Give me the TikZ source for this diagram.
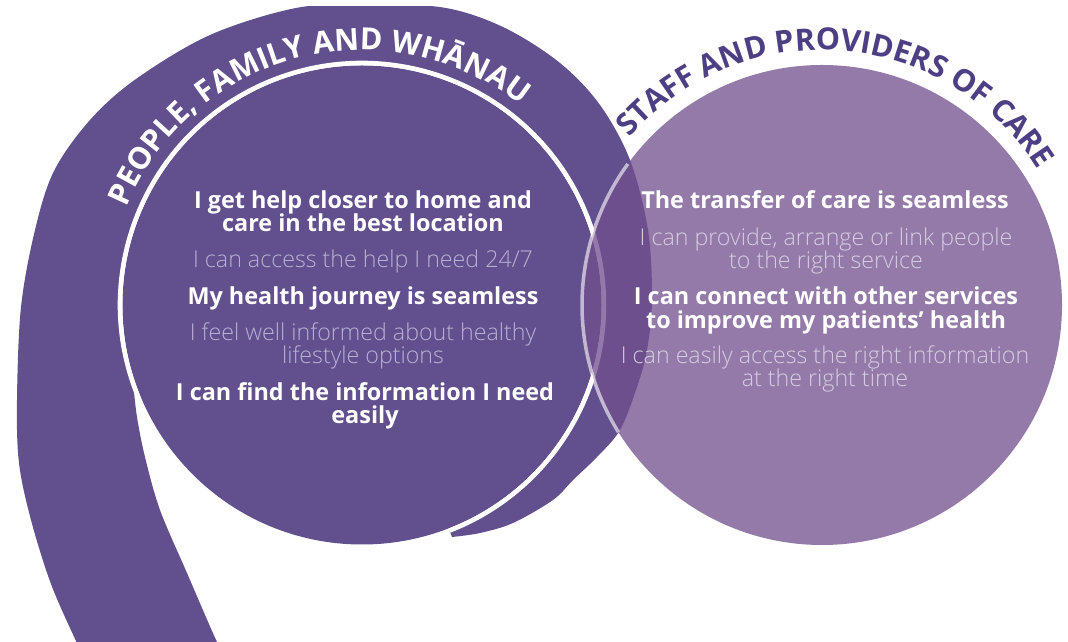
\documentclass[tikz,border=0pt]{standalone}
\usepackage{fontspec}
\setmainfont{Open Sans}
\IfFontExistsTF{Open Sans Light}{\newfontfamily\lightfont{Open Sans Light}}{\newfontfamily\lightfont{Open Sans}}
\usetikzlibrary{decorations.text,calc}
\definecolor{bandpurple}{RGB}{97,79,142}
\definecolor{lilac}{RGB}{114,80,142}
\definecolor{softtxt}{RGB}{184,176,211}
\definecolor{softtxtb}{RGB}{214,204,225}
\definecolor{titlepurple}{RGB}{78,62,132}
\tikzset{
  boldtxt/.style={font=\fontsize{23.4}{24}\selectfont\bfseries, text=white, anchor=base, inner sep=0pt},
  lighttxt/.style={font=\lightfont\fontsize{23.2}{24}\selectfont, text=softtxt, anchor=base, inner sep=0pt},
  lighttxtb/.style={lighttxt, text=softtxtb},
}
\begin{document}
\begin{tikzpicture}[x=1pt,y=1pt]
\useasboundingbox (0,0) rectangle (1068,642);
% centres
\coordinate (cL) at (362,337);
\coordinate (cR) at (822,337);
% dark spiral band
\begin{scope}
\clip (0,-20) rectangle (1068,635);
\fill[bandpurple]
  plot[smooth, tension=0.55] coordinates {(226,-14) (217,0) (187,69) (160,132) (145,185) (137,225) (133.2,258.2)}
  arc[start angle=199, end angle=-68.8, radius=242]
  -- plot[smooth, tension=0.55] coordinates {(452,105) (480,109) (513,119) (553,142) (573,162) (597,185) (620,212) (637,255) (647,292) (652,342) (648,412) (630,482) (600,537) (560,579) (505,614) (446,634) (370,638) (296,634) (210,607) (136,563) (90,522) (54,471) (35,412) (21,335) (17,242) (19,179) (31,122) (51,58) (76,1) (84,-14)}
  -- cycle;
\end{scope}
% inner disc
\fill[bandpurple] (cL) circle[radius=239.5];
% white ring
\draw[white, line width=4.5] ($(cL)+(203:242)$) arc[start angle=203, end angle=-68.8, radius=242];
% right circle
\fill[lilac, opacity=0.76] (cR) circle[radius=240];
\draw[white, opacity=0.6, line width=3.5] ($(cR)+(144:240)$) arc[start angle=144, end angle=212, radius=240];
% arc titles
\path[decorate, decoration={text effects along path,
   text={PEOPLE, FAMILY AND WHĀNAU},
   text effects/.cd, text along path, fit text to path,
   characters={text=white, font=\fontsize{30.5}{30.5}\selectfont\bfseries}}]
  ($(cL)+(157.5:255)$) arc[start angle=157.5, end angle=51.5, radius=255];
\path[decorate, decoration={text effects along path,
   text={STAFF AND PROVIDERS OF CARE},
   text effects/.cd, text along path, fit text to path,
   characters={text=titlepurple, font=\fontsize{30.5}{30.5}\selectfont\bfseries}}]
  ($(cR)+(139:255)$) arc[start angle=139, end angle=32, radius=255];
% left texts
\node[boldtxt] (l1) at (363,433) {I get help closer to home and};
\node[boldtxt] (l2) at (363,410) {care in the best location};
\node[lighttxt] (l3) at (363,374) {I can access the help I need 24/7};
\node[boldtxt] (l4) at (363,337) {My health journey is seamless};
\node[lighttxt] (l5) at (363,301) {I feel well informed about healthy};
\node[lighttxt] (l6) at (363,278) {lifestyle options};
\node[boldtxt] (l7) at (365,241) {I can find the information I need};
\node[boldtxt] (l8) at (365,218) {easily};
% right texts
\node[boldtxt] (r1) at (825,433) {The transfer of care is seamless};
\node[lighttxtb] (r2) at (826,396) {I can provide, arrange or link people};
\node[lighttxtb] (r3) at (826,373) {to the right service};
\node[boldtxt] (r4) at (826,337) {I can connect with other services};
\node[boldtxt] (r5) at (826,313) {to improve my patients’ health};
\node[lighttxtb] (r6) at (825,278) {I can easily access the right information};
\node[lighttxtb] (r7) at (825,255) {at the right time};
\end{tikzpicture}
\end{document}
